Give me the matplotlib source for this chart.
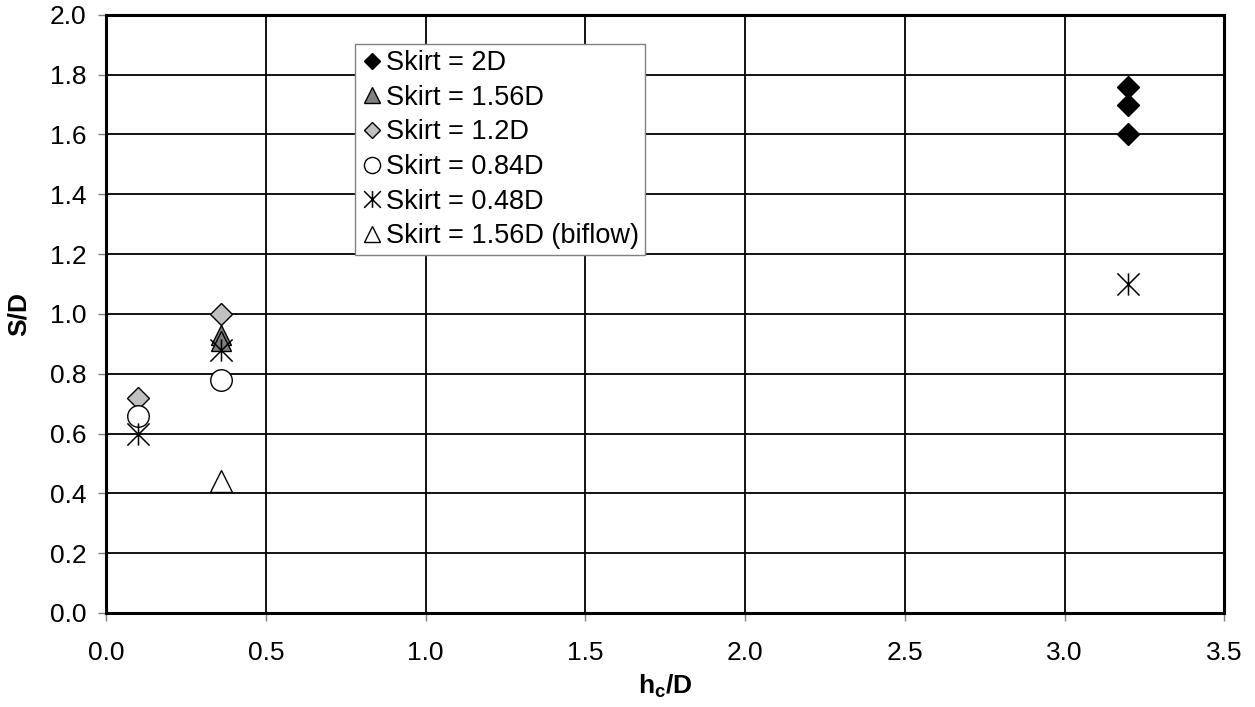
import matplotlib
matplotlib.use("Agg")
import matplotlib.pyplot as plt
from matplotlib.path import Path
import numpy as np

plt.rcParams['font.family'] = ['Liberation Sans', 'DejaVu Sans']
plt.rcParams['mathtext.fontset'] = 'custom'
plt.rcParams['mathtext.rm'] = 'Liberation Sans'
plt.rcParams['mathtext.bf'] = 'Liberation Sans:bold'

# Data
x_2D = [3.2, 3.2, 3.2]
y_2D = [1.76, 1.70, 1.60]
x_156D = [0.36, 0.36]
y_156D = [0.93, 0.91]
x_12D = [0.10, 0.36]
y_12D = [0.72, 1.00]
x_084D = [0.10, 0.36]
y_084D = [0.66, 0.78]
x_048D = [0.10, 0.36, 3.20]
y_048D = [0.60, 0.88, 1.10]
x_bi = [0.36]
y_bi = [0.44]

labels = ["Skirt = 2D", "Skirt = 1.56D", "Skirt = 1.2D", "Skirt = 0.84D",
          "Skirt = 0.48D", "Skirt = 1.56D (biflow)"]

star = Path([(0, -1), (0, 1), (-1, -1), (1, 1), (-1, 1), (1, -1)],
            [Path.MOVETO, Path.LINETO, Path.MOVETO, Path.LINETO, Path.MOVETO, Path.LINETO])

FS = 19

fig = plt.figure(figsize=(12.55, 7.07), dpi=100)
ax = fig.add_axes([0.0845, 0.133, 0.8910, 0.846])

ax.set_axisbelow(True)
ax.grid(True, color='black', linewidth=1.3)

ax.plot(x_2D, y_2D, linestyle='none', marker='D', ms=11, mfc='black', mec='black', mew=1, label=labels[0], zorder=3)
ax.plot(x_156D, y_156D, linestyle='none', marker='^', ms=15, mfc='#808080', mec='black', mew=1, label=labels[1], zorder=3)
ax.plot(x_12D, y_12D, linestyle='none', marker='D', ms=11, mfc='#c0c0c0', mec='black', mew=1, label=labels[2], zorder=3)
ax.plot(x_084D, y_084D, linestyle='none', marker='o', ms=15.5, mfc='white', mec='black', mew=1, label=labels[3], zorder=3)
ax.plot(x_048D, y_048D, linestyle='none', marker=star, ms=16, mfc='none', mec='black', mew=1.1, label=labels[4], zorder=3)
ax.plot(x_bi, y_bi, linestyle='none', marker='^', ms=16, mfc='white', mec='black', mew=1, label=labels[5], zorder=3)

ax.set_xlim(0, 3.5)
ax.set_ylim(0, 2.0)
ax.set_xticks(np.arange(0, 3.51, 0.5))
ax.set_yticks(np.arange(0, 2.01, 0.2))
ax.set_xticklabels([f"{v:.1f}" for v in np.arange(0, 3.51, 0.5)])
ax.set_yticklabels([f"{v:.1f}" for v in np.arange(0, 2.01, 0.2)])
ax.tick_params(direction='out', length=6, width=1, color='#808080', labelsize=FS)
ax.tick_params(axis='x', pad=14)
ax.tick_params(axis='y', pad=8)

for s in ax.spines.values():
    s.set_linewidth(2.2)
    s.set_color('black')

ax.set_xlabel(r'$\mathbf{h_c/D}$', fontsize=FS, labelpad=6)
ax.set_ylabel('S/D', fontsize=FS, fontweight='bold', labelpad=14)

leg = ax.legend(loc='upper left', bbox_to_anchor=(0.223, 0.951), borderaxespad=0,
                fontsize=19.5, markerscale=0.75, handlelength=0.75, handletextpad=0.15,
                labelspacing=0.32, borderpad=0.22, frameon=True, fancybox=False,
                framealpha=1, edgecolor='#808080')
leg.get_frame().set_linewidth(1)

fig.savefig('out.png', dpi=100)
